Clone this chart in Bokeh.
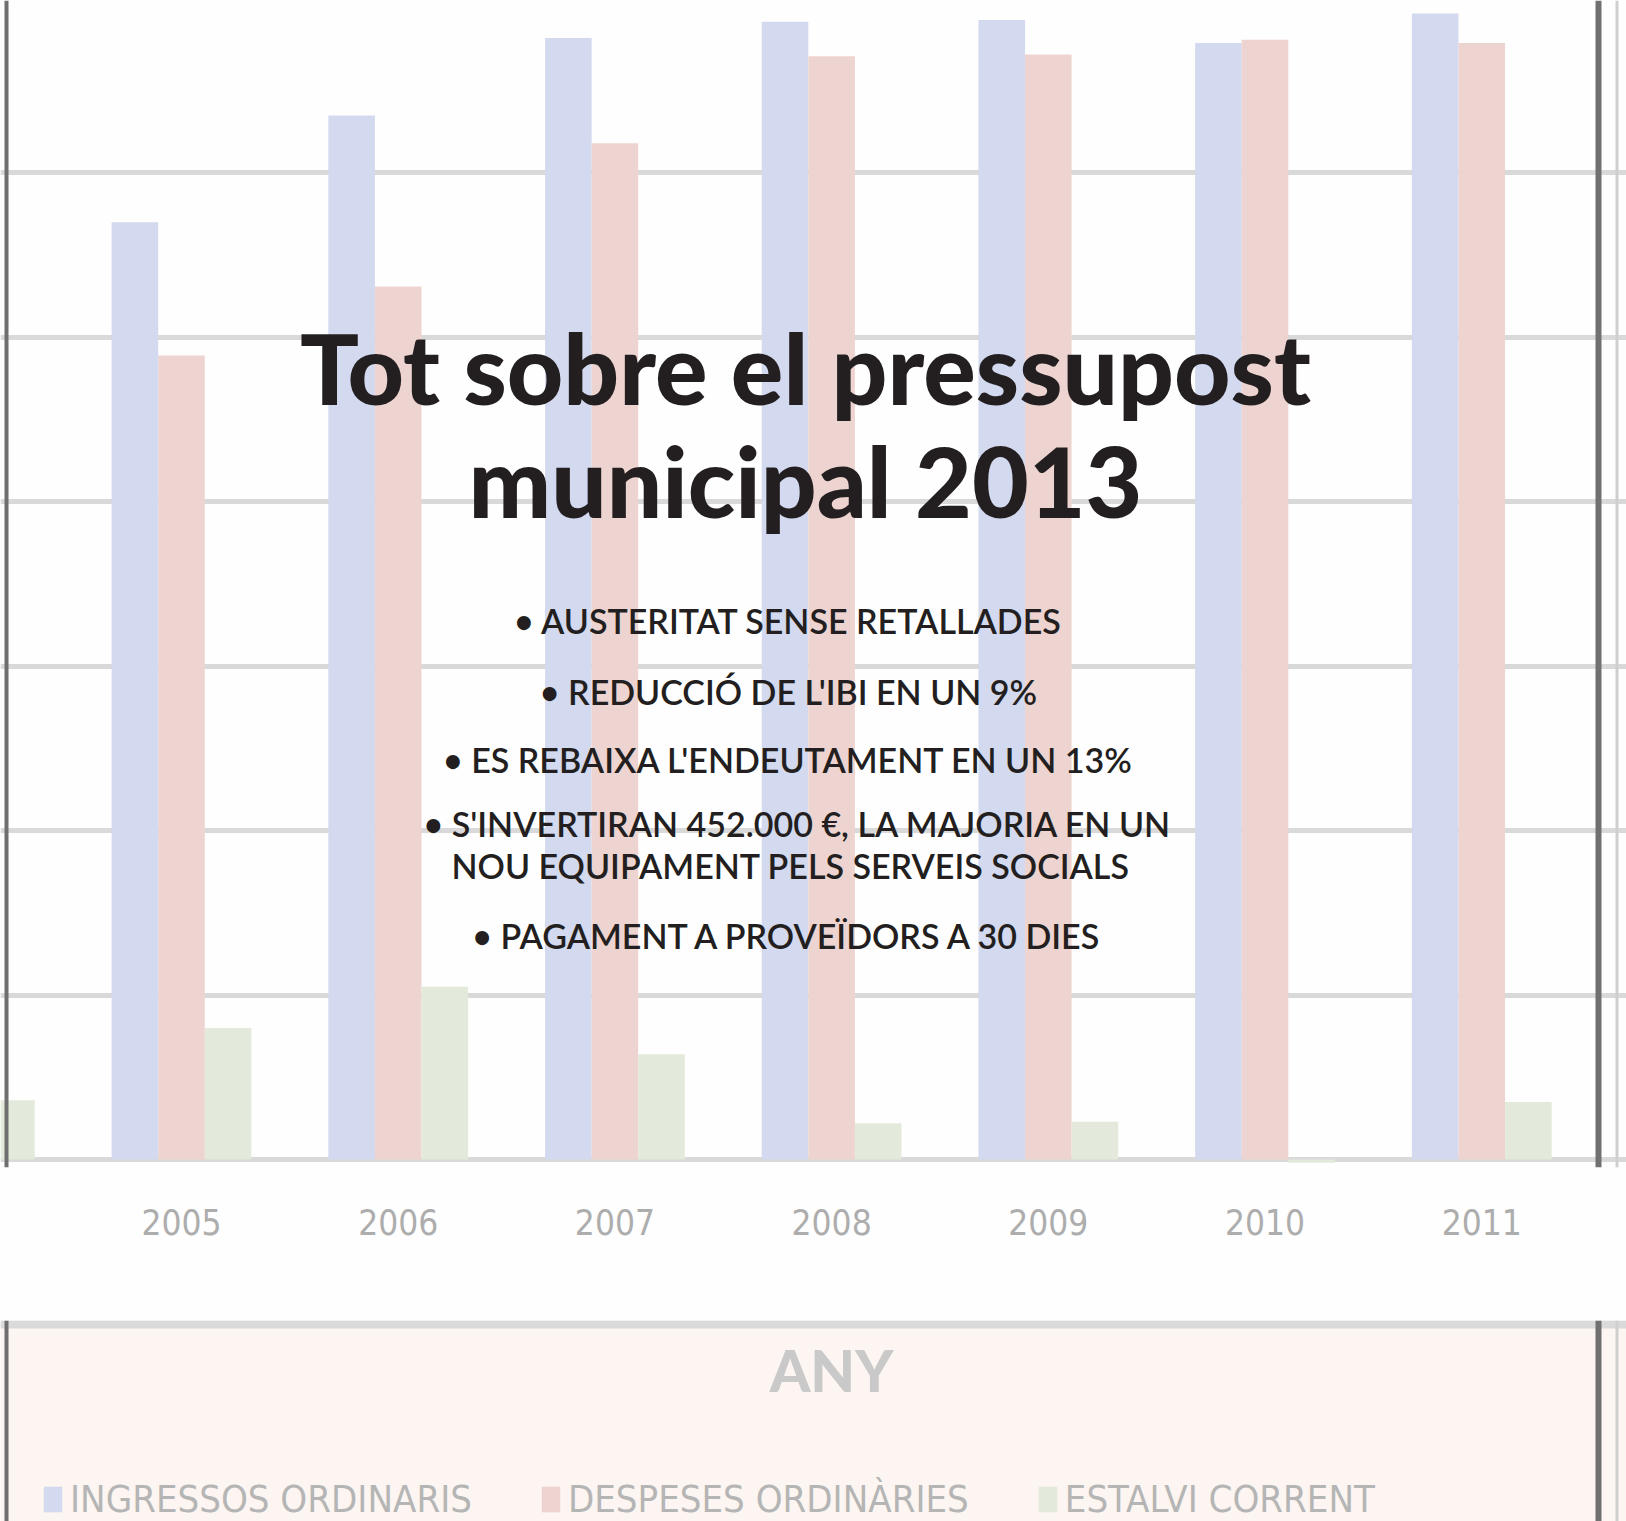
from bokeh.plotting import figure
from bokeh.models import (ColumnDataSource, Range1d, FixedTicker, Legend, LegendItem,
                          BoxAnnotation)
from bokeh.core.properties import value
from bokeh.layouts import column
from bokeh.transform import dodge
from bokeh.embed import file_html
from bokeh.resources import INLINE

# ---------------- data (grid step = 1 unit) ----------------
years = [2005, 2006, 2007, 2008, 2009, 2010, 2011]
ingressos = [5.70, 6.35, 6.82, 6.92, 6.93, 6.79, 6.97]
despeses = [4.89, 5.31, 6.18, 6.71, 6.72, 6.81, 6.79]
estalvi_years = [2004, 2005, 2006, 2007, 2008, 2009, 2010, 2011]
estalvi = [0.36, 0.80, 1.05, 0.64, 0.22, 0.23, -0.02, 0.35]
grid_ticks = [0, 1, 2, 3, 4, 5, 6]

series_names = ["INGRESSOS ORDINARIS", "DESPESES ORDINÀRIES", "ESTALVI CORRENT"]
x_title = "ANY"
title_lines = ["Tot sobre el pressupost", "municipal 2013"]
bullets_centered = ["• AUSTERITAT SENSE RETALLADES",
                    "• REDUCCIÓ DE L'IBI EN UN 9%",
                    "• ES REBAIXA L'ENDEUTAMENT EN UN 13%",
                    "• PAGAMENT A PROVEÏDORS A 30 DIES"]
bullets_left = ["• S'INVERTIRAN 452.000 €, LA MAJORIA EN UN",
                "NOU EQUIPAMENT PELS SERVEIS SOCIALS"]

# ---------------- layout / styles ----------------
BLUE, RED, GREEN = "#d3d9ef", "#eed4d0", "#e3eadb"
COND = "DejaVu Sans Condensed"
BULLET_FONT = "Lato Semibold"
W = 1626
HA = 1320          # top figure: chart + year labels
HB = 1521 - HA     # bottom figure: axis title + legend
FRAME_H = 1167
PX_PER_UNIT = 164.43
Y0, Y1 = -8 / PX_PER_UNIT, 7.0 + 8 / PX_PER_UNIT
XR = (2004.1647, 2011.668)
BAR_W = 0.215

def xd(px):
    return XR[0] + px / W * (XR[1] - XR[0])

def yd(py):
    return Y1 - py / FRAME_H * (Y1 - Y0)

src = ColumnDataSource(dict(year=years, ing=ingressos, desp=despeses))
src_e = ColumnDataSource(dict(year=estalvi_years, est=estalvi))

# ================= top figure =================
p = figure(width=W, height=HA, output_backend="svg", toolbar_location=None,
           x_range=Range1d(*XR), y_range=Range1d(Y0, Y1),
           min_border_left=0, min_border_right=0, min_border_top=0,
           min_border_bottom=HA - FRAME_H, y_axis_location=None,
           background_fill_color="#fefefe", border_fill_color="#fefefe",
           outline_line_color=None)

def bars(fig):
    r1 = fig.vbar(x=dodge("year", -BAR_W, range=fig.x_range), top="ing", width=BAR_W,
                  source=src, fill_color=BLUE, line_color=None)
    r2 = fig.vbar(x=dodge("year", 0, range=fig.x_range), top="desp", width=BAR_W,
                  source=src, fill_color=RED, line_color=None)
    r3 = fig.vbar(x=dodge("year", BAR_W, range=fig.x_range), top="est", width=BAR_W,
                  source=src_e, fill_color=GREEN, line_color=None)
    return r1, r2, r3

bars(p)

p.ygrid.ticker = FixedTicker(ticks=grid_ticks)
p.ygrid.grid_line_color = "#d9d9d9"
p.ygrid.grid_line_width = 5
p.xgrid.grid_line_color = None

ax = p.xaxis[0]
ax.ticker = FixedTicker(ticks=years)
ax.axis_line_color = None
ax.major_tick_line_color = None
ax.minor_tick_line_color = None
ax.major_label_standoff = 35
ax.major_label_text_font = COND
ax.major_label_text_font_size = "35px"
ax.major_label_text_color = "#adadad"

def vlines(fig):
    for (l, r, c) in [(4, 8, "#6f6f6f"), (1595, 1601, "#707070"), (1615, 1618, "#cfcfcf")]:
        fig.add_layout(BoxAnnotation(left=l, right=r, left_units="screen",
                                     right_units="screen", fill_color=c,
                                     fill_alpha=1, line_color=None))

vlines(p)

# overlay title and bullet points
p.text(x=[xd(805)] * 2, y=[yd(366), yd(479)], text=title_lines,
       text_align="center", text_baseline="alphabetic", text_font=value("Lato Black"),
       text_font_size="98px", text_color="#231f20")
p.text(x=[xd(788)] * 4, y=[yd(620), yd(691), yd(759), yd(935)], text=bullets_centered,
       text_align="center", text_baseline="alphabetic", text_font=value(BULLET_FONT),
       text_font_size="34px", text_color="#231f20")
p.text(x=[xd(423), xd(451)], y=[yd(823), yd(865)], text=bullets_left,
       text_align="left", text_baseline="alphabetic", text_font=value(BULLET_FONT),
       text_font_size="34px", text_color="#231f20")

# ================= bottom figure =================
q = figure(width=W, height=HB, output_backend="svg", toolbar_location=None,
           x_range=p.x_range, y_range=Range1d(1000, 1000 + HB),
           min_border_left=0, min_border_right=0, min_border_top=0,
           min_border_bottom=0, x_axis_location=None, y_axis_location=None,
           background_fill_color="#fcf5f1", border_fill_color="#fcf5f1",
           outline_line_color=None)
q.xgrid.grid_line_color = None
q.ygrid.grid_line_color = None
q1, q2, q3 = bars(q)   # outside this panel's view; they only feed the legend

q.add_layout(BoxAnnotation(bottom=HB - 8, top=HB, bottom_units="screen",
                           top_units="screen", fill_color="#dadada", fill_alpha=1,
                           line_color=None))
vlines(q)

q.text(x=[xd(831)], y=[1000 + HB - 49], text=[x_title], text_align="center",
       text_baseline="middle", text_font=value("Lato Black"),
       text_font_size="58px", text_color="#c9c9c9")

legend = Legend(items=[LegendItem(label=series_names[0], renderers=[q1]),
                       LegendItem(label=series_names[1], renderers=[q2]),
                       LegendItem(label=series_names[2], renderers=[q3])],
                location=(41, 0), orientation="horizontal",
                glyph_width=23, glyph_height=32, label_standoff=6, spacing=67,
                label_text_font=COND, label_text_font_size="38px",
                label_text_color="#b5b5b5", padding=0, margin=0,
                border_line_color=None, background_fill_alpha=0)
q.add_layout(legend, "center")

open("out.html", "w").write(file_html(column(p, q), INLINE))
